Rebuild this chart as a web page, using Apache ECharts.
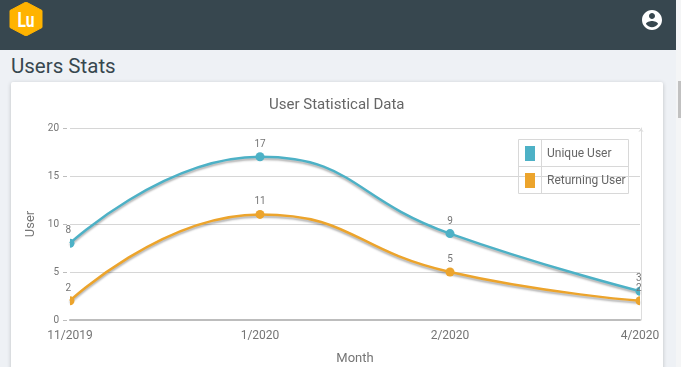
<!DOCTYPE html>
<html>
<head>
<meta charset="utf-8">
<title>Users Stats</title>
<script src="https://cdn.jsdelivr.net/npm/echarts@6/dist/echarts.min.js"></script>
<style>
html,body{margin:0;padding:0;width:681px;height:367px;overflow:hidden;background:#eef1f5;font-family:Roboto,sans-serif;}
#header{position:absolute;left:0;top:0;width:676px;height:50px;background:#37474f;}
#scrollbar{position:absolute;left:676px;top:0;width:5px;height:367px;background:#f4f5f6;}
#thumb{position:absolute;left:2px;top:81px;width:3px;height:37px;background:#c1c1c1;}
#heading{position:absolute;left:11px;top:53px;font-size:20.5px;line-height:26px;color:#37474f;}
#card{position:absolute;left:11px;top:82px;width:652px;height:300px;background:#fff;border-radius:2px;box-shadow:0 1px 4px rgba(0,0,0,.2);}
#chart{position:absolute;left:0;top:0;width:681px;height:367px;}
svg{position:absolute;}
</style>
</head>
<body>
<div id="header">
    <svg style="left:9px;top:2px" width="34" height="34" viewBox="0 0 34 34">
        <polygon points="17,0 33,8.5 33,25.5 17,34 1,25.5 1,8.5" fill="#ffb300" stroke="#ffb300" stroke-linejoin="round" stroke-width="1"/>
        <text x="17" y="25" text-anchor="middle" font-family="Roboto" font-weight="700" font-size="20" textLength="17" lengthAdjust="spacingAndGlyphs" fill="#fff">Lu</text>
    </svg>
    <svg style="left:640px;top:8px" width="24" height="24" viewBox="0 0 24 24">
        <path fill="#fff" d="M12 2C6.48 2 2 6.48 2 12s4.48 10 10 10 10-4.48 10-10S17.52 2 12 2zm0 3c1.66 0 3 1.34 3 3s-1.34 3-3 3-3-1.34-3-3 1.34-3 3-3zm0 14.2c-2.5 0-4.71-1.28-6-3.22.03-1.99 4-3.08 6-3.08s5.97 1.09 6 3.08c-1.29 1.94-3.5 3.22-6 3.22z"/>
    </svg>
</div>
<div id="scrollbar"><div id="thumb"></div></div>
<div id="heading">Users Stats</div>
<div id="card"></div>
<div id="chart"></div>
<script>
var months = ['11/2019', '1/2020', '2/2020', '4/2020'];
var uniqueUsers = [8, 17, 9, 3];
var returningUsers = [2, 11, 5, 2];
var yTicks = [0, 5, 10, 15, 20];

var textColor = '#757575';
var fontName = 'Roboto';
var dotSize = 9;

// first and last dot sit on the grid edge and are cut in half there
function makePoints(values){
    var points = [];
    for (var i = 0; i < values.length; i++) {
        if(i == 0){
            points.push({
                value: values[i],
                symbol: 'path://M0 0A1 1 0 0 1 0 2Z',
                symbolSize: [dotSize / 2, dotSize],
                symbolOffset: [dotSize / 4, 0],
                label: {offset: [-4, 0]}
            });
        }else if(i == values.length - 1){
            points.push({
                value: values[i],
                symbol: 'path://M1 0A1 1 0 0 0 1 2Z',
                symbolSize: [dotSize / 2, dotSize],
                symbolOffset: [-dotSize / 4, 0],
                label: {offset: [1, 0]}
            });
        }else{
            points.push(values[i]);
        }
    }
    return points;
}

function makeSeries(name, values, color){
    return {
        name: name,
        type: 'line',
        data: makePoints(values),
        smooth: 0.5,
        symbol: 'circle',
        symbolSize: dotSize,
        lineStyle: {
            width: 2.5,
            color: color,
            shadowColor: 'rgba(0,0,0,0.3)',
            shadowBlur: 2,
            shadowOffsetY: 2
        },
        itemStyle: {color: color},
        label: {
            show: true,
            position: 'top',
            distance: 3,
            color: textColor,
            fontFamily: fontName,
            fontSize: 10
        }
    };
}

// legend table, the library has no cell borders of its own
function legendLine(x1, y1, x2, y2){
    return {
        type: 'line',
        shape: {x1: x1, y1: y1, x2: x2, y2: y2},
        style: {stroke: '#d8d8d8', lineWidth: 1},
        z: 10
    };
}

var myChart = echarts.init(document.getElementById('chart'));
var option = {
    animation: false,
    title: {
        text: 'User Statistical Data',
        left: 269,
        top: 98,
        padding: 0,
        textStyle: {color: '#666', fontFamily: fontName, fontSize: 15, fontWeight: 'normal'}
    },
    legend: {
        data: ['Unique User', 'Returning User'],
        orient: 'vertical',
        left: 525,
        top: 146,
        padding: 0,
        itemWidth: 10,
        itemHeight: 15,
        itemGap: 12,
        icon: 'rect',
        selectedMode: false,
        textStyle: {color: '#666', fontFamily: fontName, fontSize: 12, padding: [0, 0, 0, 7]}
    },
    graphic: [
        legendLine(518.5, 139.5, 628.5, 139.5),
        legendLine(518.5, 166.5, 628.5, 166.5),
        legendLine(518.5, 193.5, 628.5, 193.5),
        legendLine(518.5, 139.5, 518.5, 193.5),
        legendLine(541.5, 139.5, 541.5, 193.5),
        legendLine(628.5, 139.5, 628.5, 193.5)
    ],
    grid: {left: 70, right: 41, top: 128, bottom: 47, outerBoundsMode: 'none'},
    xAxis: [
        {
            type: 'category',
            data: months,
            boundaryGap: false,
            name: 'Month',
            nameLocation: 'middle',
            nameGap: 32,
            nameTextStyle: {color: textColor, fontFamily: fontName, fontSize: 13},
            axisLine: {lineStyle: {color: '#bdbdbd', width: 2}},
            axisTick: {show: false},
            axisLabel: {
                color: textColor,
                fontFamily: fontName,
                fontSize: 12,
                margin: 10,
                interval: 0,
                hideOverlap: false
            }
        }
    ],
    yAxis: [
        {
            type: 'value',
            min: yTicks[0],
            max: yTicks[yTicks.length - 1],
            interval: 5,
            offset: 3,
            name: 'User',
            nameLocation: 'middle',
            nameGap: 26,
            nameTextStyle: {color: textColor, fontFamily: fontName, fontSize: 13},
            axisLine: {show: false},
            axisTick: {show: true, length: 4, lineStyle: {color: '#bdbdbd'}},
            axisLabel: {color: textColor, fontFamily: fontName, fontSize: 10, margin: 8},
            splitLine: {lineStyle: {color: '#d6d6d6', width: 1}}
        },
        {
            type: 'value',
            position: 'right',
            min: yTicks[0],
            max: yTicks[yTicks.length - 1],
            interval: 5,
            offset: 1,
            axisLine: {show: true, symbol: ['none', 'arrow'], symbolSize: [4, 4], lineStyle: {color: '#dddddd'}},
            axisTick: {show: false},
            axisLabel: {show: false},
            splitLine: {show: false}
        }
    ],
    series: [
        makeSeries('Unique User', uniqueUsers, '#4db1c6'),
        makeSeries('Returning User', returningUsers, '#eca42c')
    ]
};
myChart.setOption(option);
</script>
</body>
</html>
